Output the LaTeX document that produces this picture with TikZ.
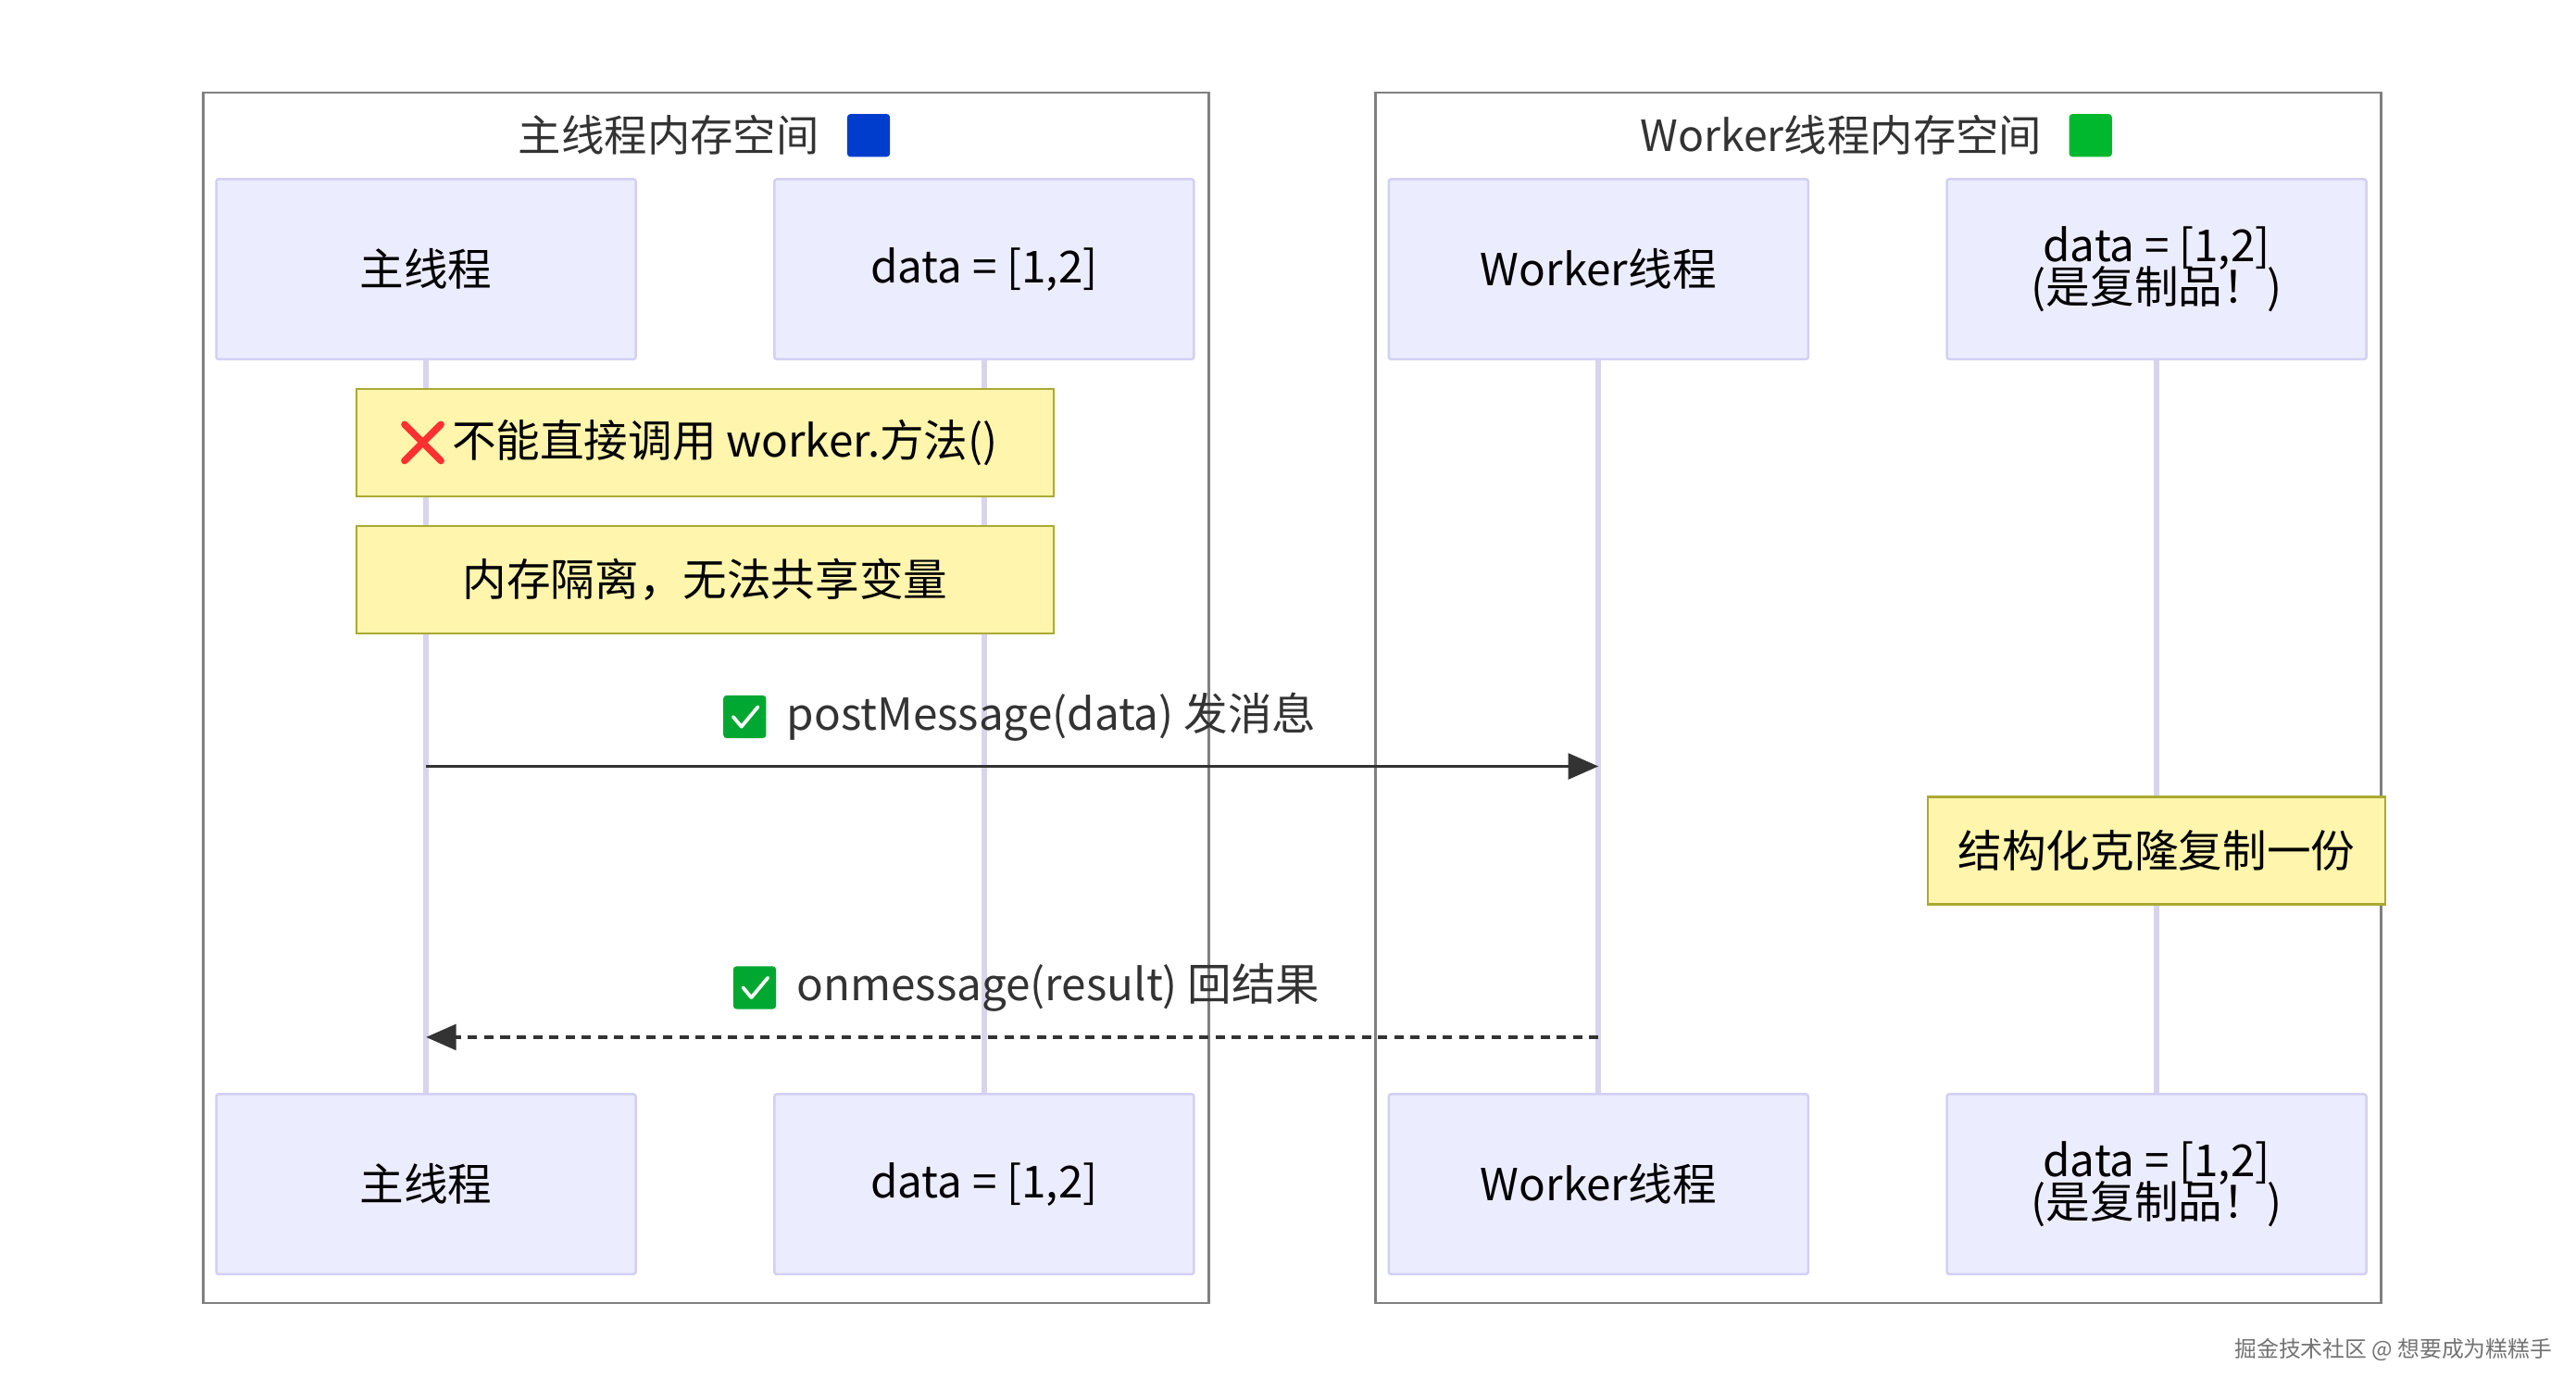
\documentclass[tikz,border=0pt]{standalone}
\usepackage{fontspec}
\setmainfont{Noto Sans CJK SC}
\usetikzlibrary{arrows.meta}
\definecolor{actfill}{HTML}{ECECFF}
\definecolor{actline}{HTML}{D2D0F2}
\definecolor{notefill}{HTML}{FFF5AD}
\definecolor{noteline}{HTML}{AAAA33}
\definecolor{lifel}{HTML}{D8D4EE}
\definecolor{frameg}{HTML}{808080}
\definecolor{txt}{HTML}{333333}
\begin{document}
\begin{tikzpicture}[x=0.05cm,y=-0.05cm,
 actor/.style={draw=actline,fill=actfill,line width=2pt,rounded corners=2pt,font=\fontsize{38}{40}\selectfont,text=black,align=center},
 note/.style={draw=noteline,fill=notefill,line width=2pt,font=\fontsize{38}{40}\selectfont,text=black},
 frame/.style={draw=frameg,line width=2pt},
 life/.style={draw=lifel,line width=5pt},
 msg/.style={draw=txt,line width=3pt,-{Triangle[length=26pt,width=22pt]}},
 lbl/.style={font=\fontsize{38}{40}\selectfont,text=txt},
 ttl/.style={font=\fontsize{37}{40}\selectfont,text=txt}]
\path[use as bounding box,fill=white] (0,0) rectangle (1560,842);
\draw[frame] (123,56) rectangle (732,789);
\draw[frame] (833,56) rectangle (1442,789);
\node[ttl] (t1) at (405,82) {主线程内存空间};
\node[ttl] (t2) at (1115,82) {Worker线程内存空间};
\fill[blue!70!cyan!80!black, rounded corners=3pt] (513,69) rectangle (539,95);
\fill[green!60!teal!90!black, rounded corners=3pt] (1253,69) rectangle (1279,95);
% lifelines
\foreach \x/\n in {258/a,596/b,968/c,1306/d}{
 \coordinate (\n1) at (\x,217); \coordinate (\n2) at (\x,662);
 \draw[life] (\n1) -- (\n2);}
% actors
\node[actor,minimum width=254*0.05cm,minimum height=109*0.05cm] (A1) at (258,163) {主线程};
\node[actor,minimum width=254*0.05cm,minimum height=109*0.05cm] (B1) at (596,163) {data = [1,2]};
\node[actor,minimum width=254*0.05cm,minimum height=109*0.05cm] (C1) at (968,163) {Worker线程};
\node[actor,minimum width=254*0.05cm,minimum height=109*0.05cm] (D1) at (1306,163) {data = [1,2]\\[-4pt](是复制品！)};
\node[actor,minimum width=254*0.05cm,minimum height=109*0.05cm] (A2) at (258,717) {主线程};
\node[actor,minimum width=254*0.05cm,minimum height=109*0.05cm] (B2) at (596,717) {data = [1,2]};
\node[actor,minimum width=254*0.05cm,minimum height=109*0.05cm] (C2) at (968,717) {Worker线程};
\node[actor,minimum width=254*0.05cm,minimum height=109*0.05cm] (D2) at (1306,717) {data = [1,2]\\[-4pt](是复制品！)};
% notes
\node[note,minimum width=422*0.05cm,minimum height=65*0.05cm] (n1) at (427,268) {\hspace*{1.2cm}不能直接调用 worker.方法()};
\draw[red!75!pink,line width=6pt,line cap=round] (245,257)--(267,279) (245,279)--(267,257);
\node[note,minimum width=422*0.05cm,minimum height=65*0.05cm] (n2) at (427,351) {内存隔离，无法共享变量};
\node[note,minimum width=277*0.05cm,minimum height=65*0.05cm] (n3) at (1306,515) {结构化克隆复制一份};
% messages
\coordinate (m1s) at (258,464); \coordinate (m1e) at (968,464);
\coordinate (m2s) at (968,628); \coordinate (m2e) at (258,628);
\draw[msg] (m1s) -- (m1e);
\draw[msg,dash pattern=on 8pt off 6pt] (m2s) -- (m2e);
\node[lbl,anchor=west] (l1) at (474,434) {postMessage(data) 发消息};
\node[lbl,anchor=west] (l2) at (480,598) {onmessage(result) 回结果};
\foreach \cx/\cy in {451/434,457/598}{
 \fill[green!55!teal!85!black,rounded corners=3pt] (\cx-13,\cy-13) rectangle (\cx+13,\cy+13);
 \draw[white,line width=3pt,line cap=round,line join=round] (\cx-7,\cy) -- (\cx-2,\cy+6) -- (\cx+8,\cy-6);}
\node[font=\fontsize{19}{20}\selectfont,text=gray!90!black,anchor=east] (wm) at (1548,817) {掘金技术社区 @ 想要成为糕糕手};
\end{tikzpicture}
\end{document}
